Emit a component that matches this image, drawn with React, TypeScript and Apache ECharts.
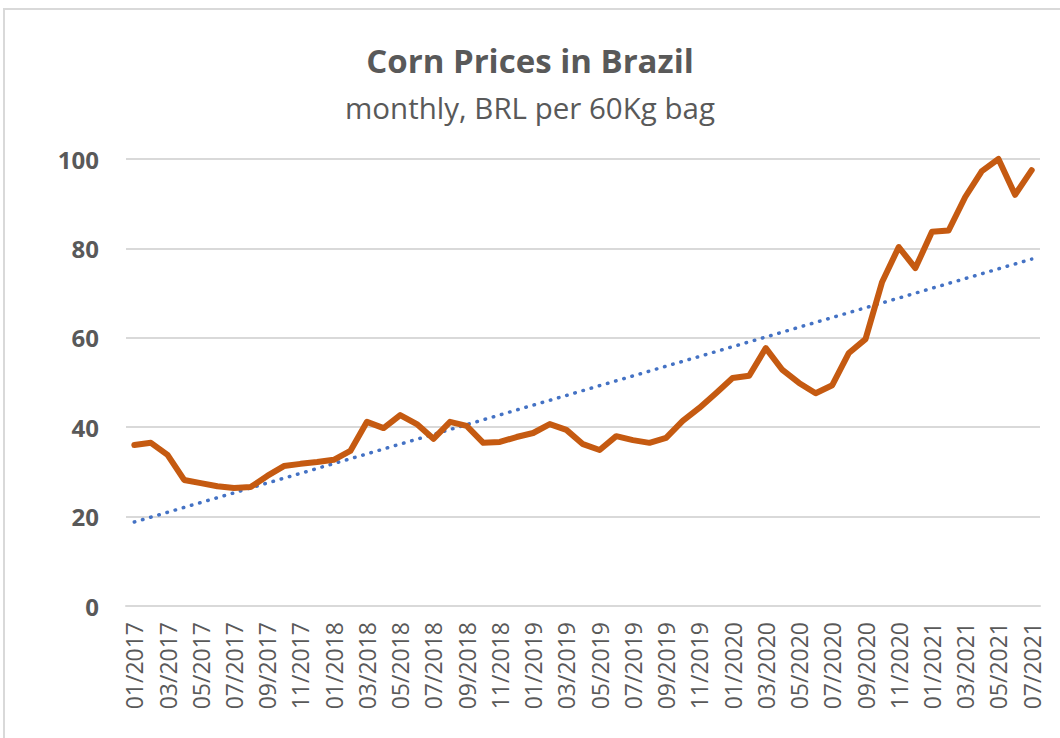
import React, { useEffect, useRef } from "react";
import * as echarts from "echarts";

const titleText = "Corn Prices in Brazil";
const subtitleText = "monthly, BRL per 60Kg bag";

const months: string[] = [
  "01/2017", "02/2017", "03/2017", "04/2017", "05/2017", "06/2017", "07/2017", "08/2017", "09/2017", "10/2017", "11/2017", "12/2017",
  "01/2018", "02/2018", "03/2018", "04/2018", "05/2018", "06/2018", "07/2018", "08/2018", "09/2018", "10/2018", "11/2018", "12/2018",
  "01/2019", "02/2019", "03/2019", "04/2019", "05/2019", "06/2019", "07/2019", "08/2019", "09/2019", "10/2019", "11/2019", "12/2019",
  "01/2020", "02/2020", "03/2020", "04/2020", "05/2020", "06/2020", "07/2020", "08/2020", "09/2020", "10/2020", "11/2020", "12/2020",
  "01/2021", "02/2021", "03/2021", "04/2021", "05/2021", "06/2021", "07/2021",
];

const prices: number[] = [
  36.0, 36.5, 33.8, 28.2, 27.5, 26.8, 26.4, 26.6, 29.1, 31.3, 31.8, 32.2,
  32.7, 34.7, 41.2, 39.8, 42.7, 40.7, 37.4, 41.2, 40.3, 36.5, 36.7, 37.8,
  38.7, 40.7, 39.4, 36.2, 34.9, 38.0, 37.1, 36.5, 37.6, 41.4, 44.3, 47.6,
  51.0, 51.5, 57.7, 52.8, 49.9, 47.6, 49.4, 56.6, 59.7, 72.5, 80.3, 75.6,
  83.7, 84.0, 91.5, 97.3, 100.0, 92.0, 97.5,
];

const yTicks = { min: 0, max: 100, interval: 20 };

// Linear (least squares) trendline computed from the price series
function linearTrend(values: number[]): number[] {
  const n = values.length;
  let sx = 0, sy = 0, sxx = 0, sxy = 0;
  values.forEach((v, i) => {
    sx += i; sy += v; sxx += i * i; sxy += i * v;
  });
  const slope = (n * sxy - sx * sy) / (n * sxx - sx * sx);
  const intercept = (sy - slope * sx) / n;
  return values.map((_, i) => +(intercept + slope * i).toFixed(3));
}

export default function App() {
  const ref = useRef<HTMLDivElement>(null);
  useEffect(() => {
    if (!ref.current) return;
    const chart = echarts.init(ref.current, null, { renderer: "svg" });
    const trend = linearTrend(prices);
    chart.setOption({
      animation: false,
      backgroundColor: "#ffffff",
      title: [
        {
          text: titleText,
          left: "center",
          top: 39,
          textStyle: {
            fontFamily: "'Open Sans', sans-serif",
            fontWeight: "bold",
            fontSize: 33,
            color: "#595959",
          },
        },
        {
          text: subtitleText,
          left: "center",
          top: 87,
          textStyle: {
            fontFamily: "'Open Sans', sans-serif",
            fontWeight: "normal",
            fontSize: 29.5,
            color: "#595959",
          },
        },
      ],
      graphic: [
        {
          type: "polyline",
          shape: { points: [[4, 740], [4, 9], [1062, 9]] },
          style: { stroke: "#D9D9D9", lineWidth: 2, fill: "none" },
          silent: true,
        },
      ],
      grid: { left: 126, right: 20, top: 159, bottom: 132, containLabel: false },
      xAxis: {
        type: "category",
        data: months,
        boundaryGap: true,
        axisLine: { show: true, lineStyle: { color: "#D9D9D9", width: 2 } },
        axisTick: { show: false },
        axisLabel: {
          interval: 1,
          rotate: 90,
          margin: 16,
          fontFamily: "'Open Sans', sans-serif",
          fontSize: 23,
          color: "#595959",
        },
      },
      yAxis: {
        type: "value",
        min: yTicks.min,
        max: yTicks.max,
        interval: yTicks.interval,
        axisLine: { show: false },
        axisTick: { show: false },
        splitLine: { lineStyle: { color: "#D9D9D9", width: 2 } },
        axisLabel: {
          margin: 27,
          fontFamily: "'Open Sans', sans-serif",
          fontWeight: "bold",
          fontSize: 24,
          color: "#595959",
        },
      },
      series: [
        {
          name: "Price",
          type: "line",
          data: prices,
          symbol: "none",
          clip: false,
          lineStyle: { color: "#C55A11", width: 6, join: "round", cap: "round" },
          z: 3,
        },
        {
          name: "Linear trend",
          type: "line",
          data: trend,
          symbol: "none",
          lineStyle: { color: "#4472C4", width: 3.5, type: [0.5, 8], cap: "round" },
          z: 2,
        },
      ],
    });
    return () => chart.dispose();
  }, []);
  return (
    <div
      ref={ref}
      style={{ position: "fixed", left: 0, top: 0, width: 1060, height: 738, background: "#fff" }}
    />
  );
}
